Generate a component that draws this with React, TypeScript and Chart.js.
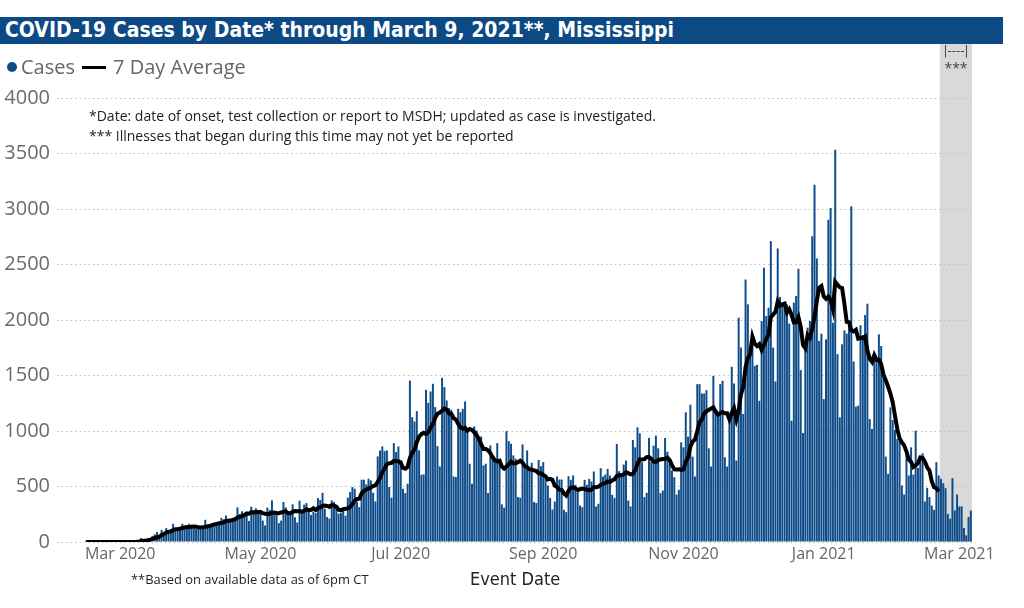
import React, { useEffect, useRef } from "react";
import { Chart, registerables } from "chart.js";

Chart.register(...registerables);

// ---- data: daily cases by event date (one value per day, starting 2020-02-03) ----
const START = { y: 2020, m: 1, d: 3 };

const cases2020Feb = [
  null, null, null, null, null, null, null, null, null, null, null, null,
  0, 0, 0, 0, 0, 0, 0, 0, 0, 0, 0, 0, 0, 0, 0,
];
const cases2020Mar = [
  0, 0, 1, 0, 2, 1, 3, 4, 8, 36, 20, 15, 25, 30, 55, 68, 89, 60, 110, 89, 125, 104, 95, 164, 119,
  110, 130, 164, 135, 125, 164,
];
const cases2020Apr = [
  140, 120, 118, 125, 122, 135, 200, 160, 155, 165, 170, 160, 168, 217, 205, 238, 180, 182, 208,
  215, 312, 253, 277, 260, 274, 190, 318, 283, 303, 253,
];
const cases2020May = [
  280, 193, 149, 310, 289, 375, 268, 253, 170, 193, 360, 312, 268, 260, 339, 223, 176, 372, 268,
  336, 351, 283, 244, 274, 260, 396, 378, 443, 300, 225, 210,
];
const cases2020Jun = [
  375, 360, 315, 255, 261, 290, 237, 400, 450, 495, 480, 360, 315, 561, 561, 519, 570, 555, 444,
  366, 771, 825, 861, 819, 825, 495, 399, 891, 810, 861,
];
const cases2020Jul = [
  735, 480, 441, 525, 1455, 1125, 1086, 1179, 825, 606, 609, 1371, 1254, 1356, 1425, 1215, 864,
  681, 1479, 1395, 1275, 1206, 1191, 591, 585, 1200, 1170, 1200, 1266, 1005, 705,
];
const cases2020Aug = [
  525, 1041, 1005, 945, 951, 690, 705, 441, 870, 750, 735, 891, 735, 339, 309, 999, 909, 885, 780,
  750, 405, 399, 879, 681, 825, 660, 714, 360, 351, 739, 683,
];
const cases2020Sep = [
  719, 584, 509, 398, 293, 365, 590, 563, 563, 290, 269, 593, 560, 599, 515, 464, 329, 314, 560,
  515, 569, 545, 635, 320, 344, 665, 590, 608, 659, 599,
];
const cases2020Oct = [
  425, 398, 883, 638, 614, 698, 734, 374, 320, 919, 853, 1033, 979, 719, 404, 443, 937, 719, 868,
  958, 844, 440, 464, 937, 814, 704, 644, 584, 428, 470, 898,
];
const cases2020Nov = [
  853, 1168, 949, 1237, 769, 590, 1422, 1422, 1338, 1338, 1368, 844, 680, 1497, 1168, 1138, 1422,
  1452, 763, 680, 1108, 1578, 1428, 734, 2021, 1752, 1153, 2365, 2141, 1677,
];
const cases2020Dec = [
  1841, 1587, 1596, 1272, 1991, 2470, 2036, 2111, 2710, 1751, 1446, 2644, 2207, 2126, 2156, 2141,
  1967, 1093, 2156, 2216, 2461, 1548, 982, 1766, 1931, 1991, 2755, 3219, 2554, 1811, 1877,
];
const cases2021Jan = [
  1287, 1826, 2904, 3009, 1976, 3533, 1692, 1123, 1781, 1907, 1877, 1946, 3024, 1626, 1219, 1228,
  1952, 1865, 2045, 2147, 1108, 1018, 1656, 1647, 1871, 1766, 1482, 769, 614, 1213, 1099,
];
const cases2021Feb = [
  1009, 928, 907, 509, 428, 823, 599, 853, 608, 1003, 668, 778, 799, 365, 488, 404, 329, 290, 719,
  599, 569, 530, 485, 254, 210, 575, 284, 428,
];
const cases2021Mar = [320, 320, 126, 60, 225, 284];

// first day of the 7-day average line, its last day, and the first "may not yet be reported" day
const AVG_FIRST = "2020-02-15";
const AVG_LAST = "2021-02-20";
const PENDING_FROM = "2021-02-21";

const TICK_DATES = ["2020-03-01", "2020-05-01", "2020-07-01", "2020-09-01", "2020-11-01", "2021-01-01", "2021-03-01"];
const TICK_LABELS = ["Mar 2020", "May 2020", "Jul 2020", "Sep 2020", "Nov 2020", "Jan 2021", "Mar 2021"];

const Y_TICKS = [0, 500, 1000, 1500, 2000, 2500, 3000, 3500, 4000];

const cases: (number | null)[] = [
  ...cases2020Feb, ...cases2020Mar, ...cases2020Apr, ...cases2020May, ...cases2020Jun,
  ...cases2020Jul, ...cases2020Aug, ...cases2020Sep, ...cases2020Oct, ...cases2020Nov,
  ...cases2020Dec, ...cases2021Jan, ...cases2021Feb, ...cases2021Mar,
];

const categories = cases.map((_, i) =>
  new Date(Date.UTC(START.y, START.m, START.d + i)).toISOString().slice(0, 10)
);

// 7 Day Average = mean of the day and the six days before it
const avgFirstIdx = categories.indexOf(AVG_FIRST);
const avgLastIdx = categories.indexOf(AVG_LAST);
const sevenDayAvg = cases.map((_, i) => {
  if (i < avgFirstIdx || i > avgLastIdx) return null;
  let s = 0;
  for (let k = i - 6; k <= i; k++) s += k >= 0 ? cases[k] ?? 0 : 0;
  return s / 7;
});

const BLUE = "#0f4c8a";
const HEADER = "#0d4a85";

const pendingPlugin = {
  id: "pendingBand",
  beforeDraw(chart: any) {
    const x = chart.scales.x;
    const idx = categories.indexOf(PENDING_FROM);
    const step = x.getPixelForValue(1) - x.getPixelForValue(0);
    const left = x.getPixelForValue(idx) - step / 2;
    const { ctx, chartArea } = chart;
    ctx.save();
    ctx.fillStyle = "#d9d9d9";
    ctx.fillRect(left, 44, chartArea.right - left, chartArea.bottom - 44);
    ctx.restore();
  },
};

export default function App() {
  const ref = useRef<HTMLCanvasElement | null>(null);

  useEffect(() => {
    if (!ref.current) return;
    const tickMap: Record<string, string> = {};
    TICK_DATES.forEach((d, i) => (tickMap[d] = TICK_LABELS[i]));
    const chart = new Chart(ref.current, {
      type: "bar",
      data: {
        labels: categories,
        datasets: [
          {
            type: "line",
            label: "7 Day Average",
            data: sevenDayAvg,
            borderColor: "#000",
            borderWidth: 4,
            pointRadius: 0,
            tension: 0,
            spanGaps: false,
            order: 0,
          } as any,
          {
            type: "bar",
            label: "Cases",
            data: cases,
            backgroundColor: BLUE,
            barPercentage: 0.86,
            categoryPercentage: 1,
            order: 1,
          },
        ],
      },
      options: {
        responsive: false,
        animation: false,
        layout: { padding: { top: 98, right: 52, bottom: 0, left: 0 } },
        plugins: { legend: { display: false }, tooltip: { enabled: false } },
        scales: {
          x: {
            grid: { display: false, drawTicks: false },
            border: { display: false },
            ticks: {
              autoSkip: false,
              maxRotation: 0,
              minRotation: 0,
              padding: 3,
              color: "#666",
              font: { family: "'Open Sans'", size: 16 },
              callback: (_v: any, i: number) => tickMap[categories[i]] ?? null,
            },
            afterFit: (s: any) => {
              s.height = 66;
            },
          },
          y: {
            min: 0,
            max: 4000,
            afterBuildTicks: (s: any) => {
              s.ticks = Y_TICKS.map((v) => ({ value: v }));
            },
            grid: { color: "#bdbdbd", lineWidth: 1, drawTicks: false },
            border: { display: false, dash: [1.5, 3] },
            ticks: {
              padding: 7,
              color: "#6b6b6b",
              font: { family: "'Open Sans'", size: 20 },
              callback: (v: any) => String(v),
            },
            afterFit: (s: any) => {
              s.width = 57;
            },
          },
        },
      },
      plugins: [pendingPlugin],
    });
    return () => chart.destroy();
  }, []);

  const abs = (o: React.CSSProperties): React.CSSProperties => ({ position: "absolute", whiteSpace: "nowrap", ...o });

  return (
    <div style={{ position: "fixed", left: 0, top: 0, width: 1024, height: 608, background: "#fff", overflow: "hidden" }}>
      <canvas ref={ref} width={1024} height={608} style={{ position: "absolute", left: 0, top: 0, width: 1024, height: 608 }} />
      <div
        style={abs({
          left: 0, top: 17, width: 1003, height: 27, background: HEADER, color: "#fff",
          fontFamily: "'DejaVu Sans Condensed', 'DejaVu Sans', sans-serif", fontWeight: "bold", fontSize: 21, lineHeight: "27px", paddingLeft: 5, boxSizing: "border-box",
        })}
      >
        COVID-19 Cases by Date* through March 9, 2021**, Mississippi
      </div>
      <div style={abs({ left: 7, top: 62, width: 10, height: 10, borderRadius: "50%", background: BLUE })} />
      <div style={abs({ left: 21, top: 53, lineHeight: "28px", fontSize: 20, fontFamily: "'Open Sans'", color: "#666" })}>Cases</div>
      <div style={abs({ left: 82, top: 66, width: 24, height: 3, background: "#000" })} />
      <div style={abs({ left: 113, top: 53, lineHeight: "28px", fontSize: 20, fontFamily: "'Open Sans'", color: "#666" })}>7 Day Average</div>
      <div style={abs({ left: 89, top: 107, lineHeight: "18px", fontSize: 14, fontFamily: "'Open Sans'", color: "#222" })}>
        *Date: date of onset, test collection or report to MSDH; updated as case is investigated.
      </div>
      <div style={abs({ left: 89, top: 127, lineHeight: "18px", fontSize: 14, fontFamily: "'Open Sans'", color: "#222" })}>
        *** Illnesses that began during this time may not yet be reported
      </div>
      <div style={abs({ left: 940, width: 32, top: 43, lineHeight: "16px", fontSize: 13, fontFamily: "'DejaVu Sans Condensed', sans-serif", color: "#444", textAlign: "center" })}>|----|</div>
      <div style={abs({ left: 940, width: 32, top: 61, lineHeight: "14px", fontSize: 14, fontFamily: "'Open Sans'", color: "#444", textAlign: "center" })}>***</div>
      <div style={abs({ left: 131, top: 571, lineHeight: "16px", fontSize: 12.9, fontFamily: "'Open Sans'", color: "#222" })}>
        **Based on available data as of 6pm CT
      </div>
      <div style={abs({ left: 470, top: 567, lineHeight: "24px", fontSize: 18, fontFamily: "'DejaVu Sans Condensed', 'DejaVu Sans', sans-serif", color: "#222" })}>
        Event Date
      </div>
    </div>
  );
}
